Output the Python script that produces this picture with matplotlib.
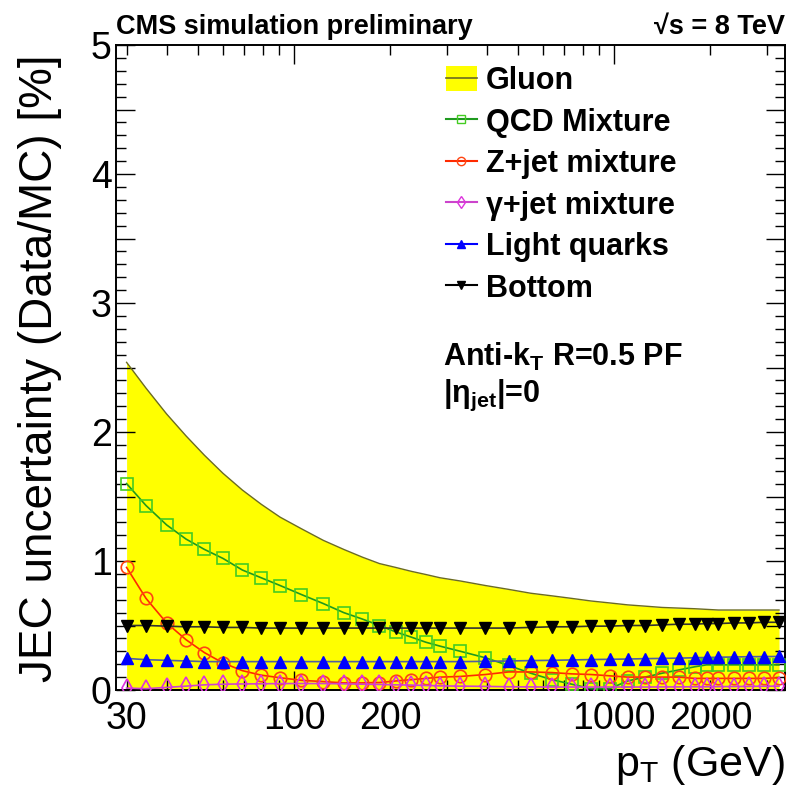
import matplotlib
matplotlib.use("Agg")
import matplotlib.pyplot as plt
from matplotlib.lines import Line2D
from matplotlib.patches import Patch
from matplotlib.ticker import MultipleLocator, FixedLocator, FuncFormatter

plt.rcParams['font.family'] = ['Liberation Sans', 'DejaVu Sans']
plt.rcParams['mathtext.fontset'] = 'custom'
plt.rcParams['mathtext.rm'] = 'Liberation Sans'
plt.rcParams['mathtext.bf'] = 'Liberation Sans:bold'
plt.rcParams['mathtext.it'] = 'Liberation Sans:italic'

# pT points (GeV)
pt = [30, 34.5, 40, 46, 52.5, 60, 69, 79, 90.5, 105.5, 123.5, 143, 163.5, 185,
      208, 232.5, 258.5, 286, 331, 396, 468.5, 549.5, 639, 738, 847.5, 968.5,
      1102, 1249.5, 1412, 1590, 1787, 1945, 2119, 2369, 2643.5, 2945, 3276]

gluon = [2.54, 2.34, 2.14, 1.97, 1.82, 1.68, 1.55, 1.44, 1.34, 1.25, 1.16, 1.09,
         1.03, 0.98, 0.95, 0.92, 0.895, 0.87, 0.845, 0.81, 0.78, 0.75, 0.73,
         0.71, 0.69, 0.675, 0.66, 0.65, 0.64, 0.635, 0.63, 0.625, 0.62, 0.62,
         0.62, 0.62, 0.62]

qcd = [1.60, 1.43, 1.28, 1.17, 1.09, 1.02, 0.93, 0.87, 0.81, 0.74, 0.67, 0.60,
       0.55, 0.50, 0.45, 0.41, 0.37, 0.34, 0.30, 0.25, 0.19, 0.13, 0.08, 0.045,
       0.01, 0.01, 0.07, 0.10, 0.13, 0.155, 0.18, 0.195, 0.195, 0.195, 0.195,
       0.195, 0.195]

zjet = [0.95, 0.71, 0.52, 0.39, 0.29, 0.21, 0.15, 0.115, 0.095, 0.075, 0.065,
        0.055, 0.055, 0.058, 0.07, 0.08, 0.09, 0.10, 0.105, 0.12, 0.14, 0.14,
        0.135, 0.125, 0.12, 0.11, 0.10, 0.10, 0.10, 0.10, 0.09, 0.09, 0.09,
        0.09, 0.09, 0.09, 0.095]

gjet = [0.015, 0.01, 0.02, 0.03, 0.04, 0.045, 0.047, 0.048, 0.05, 0.05, 0.05,
        0.048, 0.045, 0.043, 0.04, 0.038, 0.035, 0.032, 0.03, 0.028, 0.025,
        0.024, 0.023, 0.023, 0.023, 0.023, 0.023, 0.023, 0.024, 0.024, 0.025,
        0.025, 0.026, 0.027, 0.028, 0.029, 0.03]

light = [0.245, 0.235, 0.23, 0.225, 0.22, 0.22, 0.22, 0.22, 0.22, 0.22, 0.22,
         0.22, 0.22, 0.22, 0.22, 0.22, 0.22, 0.22, 0.22, 0.222, 0.225, 0.228,
         0.23, 0.233, 0.236, 0.238, 0.24, 0.243, 0.245, 0.247, 0.25, 0.252,
         0.254, 0.256, 0.258, 0.259, 0.26]

bottom = [0.50, 0.50, 0.495, 0.49, 0.49, 0.485, 0.485, 0.48, 0.48, 0.48, 0.48,
          0.48, 0.48, 0.48, 0.48, 0.48, 0.48, 0.48, 0.48, 0.48, 0.48, 0.485,
          0.49, 0.49, 0.495, 0.495, 0.50, 0.50, 0.505, 0.51, 0.51, 0.515,
          0.515, 0.52, 0.52, 0.525, 0.525]

x_major = [100, 1000]
x_minor = [30, 40, 50, 60, 70, 80, 90, 200, 300, 400, 500, 600, 700, 800,
           900, 2000, 3000]
x_minor_labels = {30: '30', 200: '200', 2000: '2000'}

fig = plt.figure(figsize=(7.9, 7.99), dpi=100)
ax = fig.add_axes([116 / 790, 109 / 799, 669 / 790, 645 / 799])

ax.fill_between(pt, 0, gluon, color='#ffff00', lw=0, zorder=1)
ax.plot(pt, gluon, color='#6b6b22', lw=1.0, zorder=2)

ax.plot(pt, qcd, color='#1f9a1f', lw=1.2, marker='s', ms=8.5, mfc='none',
        mec='#44cc22', mew=1.2, zorder=3)
ax.plot(pt, zjet, color='#ff2a00', lw=1.2, marker='o', ms=9, mfc='none',
        mec='#ff4411', mew=1.2, zorder=4)
ax.plot(pt, gjet, color='#cc44cc', lw=1.2, marker='d', ms=9, mfc='none',
        mec='#dd33dd', mew=1.2, zorder=5)
ax.plot(pt, light, color='#5060a0', lw=1.2, marker='^', ms=9,
        mfc='#0000ff', mec='#0000ff', zorder=6)
ax.plot(pt, bottom, color='#333333', lw=1.2, marker='v', ms=9,
        mfc='black', mec='black', zorder=7)

ax.set_xscale('log')
ax.set_xlim(27.8, 3420)
ax.set_ylim(0, 5)

ax.xaxis.set_major_locator(FixedLocator(x_major))
ax.xaxis.set_major_formatter(FuncFormatter(lambda v, p: '%d' % round(v)))
ax.xaxis.set_minor_locator(FixedLocator(x_minor))
ax.xaxis.set_minor_formatter(
    FuncFormatter(lambda v, p: x_minor_labels.get(int(round(v)), '')))
ax.yaxis.set_major_locator(MultipleLocator(0.5))
ax.yaxis.set_major_formatter(
    FuncFormatter(lambda v, p: '%d' % round(v) if abs(v - round(v)) < 1e-6 else ''))
ax.yaxis.set_minor_locator(MultipleLocator(0.1))

ax.tick_params(which='both', direction='in', top=True, right=True,
               labelsize=27, width=1.0)
ax.tick_params(axis='y', which='both', pad=3)
ax.tick_params(axis='x', which='both', pad=8)
ax.tick_params(which='major', length=14)
ax.tick_params(which='minor', length=7)
for s in ax.spines.values():
    s.set_linewidth(1.4)

fig.text(40 / 790, 1 - 368 / 799, 'JEC uncertainty (Data/MC) [%]',
         rotation=90, ha='center', va='center', fontsize=33)
fig.text(785 / 790, 1 - 765 / 799, r'p$_\mathregular{T}$ (GeV)',
         ha='right', va='center', fontsize=31)

ax.text(0.0, 1.008, 'CMS simulation preliminary', transform=ax.transAxes,
        ha='left', va='bottom', fontsize=19.5, fontweight='bold')
ax.text(1.0, 1.008, '√s = 8 TeV', transform=ax.transAxes,
        ha='right', va='bottom', fontsize=19.5, fontweight='bold')

ax.text(443 / 790, 1 - 357 / 799, r'Anti-k$_\mathbf{T}$ R=0.5 PF',
        transform=fig.transFigure, ha='left', va='center', fontsize=22,
        fontweight='bold')
ax.text(443 / 790, 1 - 395 / 799, r'|η$_\mathbf{jet}$|=0',
        transform=fig.transFigure, ha='left', va='center', fontsize=22,
        fontweight='bold')

handles = [
    (Patch(facecolor='#ffff00', edgecolor='none'),
     Line2D([], [], color='#6b6b22', lw=1.2)),
    Line2D([], [], color='#1f9a1f', marker='s', ms=6, mfc='none', mec='#44cc22'),
    Line2D([], [], color='#ff2a00', marker='o', ms=6, mfc='none', mec='#ff4411'),
    Line2D([], [], color='#cc44cc', marker='d', ms=6, mfc='none', mec='#dd33dd'),
    Line2D([], [], color='#0000ff', marker='^', ms=6, mfc='#0000ff', mec='#0000ff'),
    Line2D([], [], color='black', marker='v', ms=6, mfc='black', mec='black'),
]
labels = ['Gluon', 'QCD Mixture', 'Z+jet mixture', 'γ+jet mixture',
          'Light quarks', 'Bottom']
fig.legend(handles, labels, loc='upper left',
           bbox_to_anchor=(446 / 790, 1 - 66 / 799),
           frameon=False, prop={'size': 22, 'weight': 'bold'},
           handlelength=1.0, handleheight=0.9, handletextpad=0.3,
           labelspacing=0.37, borderaxespad=0, borderpad=0)

fig.savefig('out.png', dpi=100)
